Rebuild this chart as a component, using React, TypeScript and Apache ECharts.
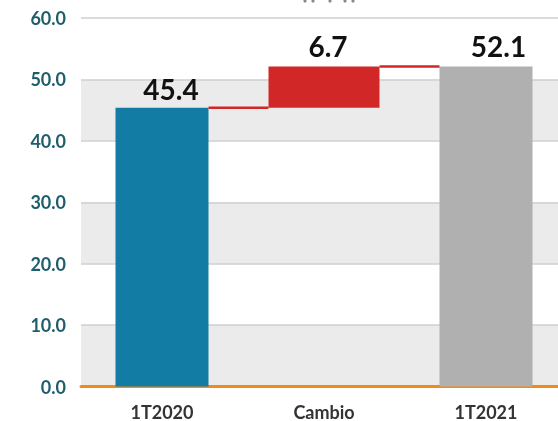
import React, { useEffect, useRef } from "react";
import * as echarts from "echarts";

const categories = ["1T2020", "Cambio", "1T2021"];
const startValue = 45.4;
const changeValue = 6.7;
const endValue = 52.1;
const yTicks = [0, 10, 20, 30, 40, 50, 60];

const BLUE = "#127ca5";
const RED = "#d22727";
const GRAY = "#b0b0b0";
const TOTAL_W = 93;
const CHANGE_W = 111;

export default function App() {
  const ref = useRef<HTMLDivElement>(null);
  useEffect(() => {
    if (!ref.current) return;
    const chart = echarts.init(ref.current, undefined, { renderer: "svg" });
    const labelBase = {
      show: true,
      position: "top",
      fontFamily: "Lato",
      fontWeight: "bold",
      fontSize: 28,
      color: "#111111",
    };
    const halfW = [TOTAL_W / 2, CHANGE_W / 2, TOTAL_W / 2];
    chart.setOption({
      animation: false,
      textStyle: { fontFamily: "Lato" },
      grid: [
        {
          left: 81,
          width: 486,
          top: 18,
          height: 368.5,
          containLabel: false,
          outerBoundsMode: "none",
        },
      ],
      xAxis: [
        {
          type: "category",
          data: categories,
          gridIndex: 0,
          axisLine: { show: true, lineStyle: { color: "#f28a14", width: 3 } },
          axisTick: { show: false },
          axisLabel: {
            fontFamily: "Lato",
            fontWeight: "bold",
            fontSize: 18,
            color: "#333333",
            margin: 16,
          },
          splitLine: { show: false },
          z: 1,
        },
        {
          type: "category",
          data: categories,
          gridIndex: 0,
          show: false,
        },
      ],
      yAxis: {
        type: "value",
        min: yTicks[0],
        max: yTicks[yTicks.length - 1],
        interval: 10,
        axisLine: { show: false },
        axisTick: { show: false },
        axisLabel: {
          formatter: (v: number) => v.toFixed(1),
          fontFamily: "Lato",
          fontWeight: "bold",
          fontSize: 18,
          color: "#1f5e6b",
          margin: 15,
        },
        splitLine: { show: true, lineStyle: { color: "#cfcfcf", width: 1.5 } },
        splitArea: { show: true, areaStyle: { color: ["#ebebeb", "#ffffff"] } },
      },
      graphic: [
        { type: "circle", shape: { cx: 305, cy: 1, r: 1.6 }, style: { fill: "#888" } },
        { type: "circle", shape: { cx: 313, cy: 1, r: 1.6 }, style: { fill: "#888" } },
        { type: "circle", shape: { cx: 330, cy: 1, r: 1.6 }, style: { fill: "#888" } },
        { type: "circle", shape: { cx: 345, cy: 1, r: 1.6 }, style: { fill: "#888" } },
        { type: "circle", shape: { cx: 353, cy: 1, r: 1.6 }, style: { fill: "#888" } },
      ],
      series: [
        {
          name: "Totales",
          type: "bar",
          xAxisIndex: 0,
          barWidth: TOTAL_W,
          data: [
            {
              value: startValue,
              itemStyle: { color: BLUE },
              label: { ...labelBase, offset: [9, 0], distance: 4.5 },
            },
            "-",
            {
              value: endValue,
              itemStyle: { color: GRAY },
              label: { ...labelBase, offset: [12.5, 0], distance: 6.5 },
            },
          ],
        },
        {
          name: "Base",
          type: "bar",
          xAxisIndex: 1,
          stack: "w",
          barWidth: CHANGE_W,
          itemStyle: { color: "transparent" },
          data: ["-", startValue, "-"],
        },
        {
          name: "Cambio",
          type: "bar",
          xAxisIndex: 1,
          stack: "w",
          barWidth: CHANGE_W,
          itemStyle: { color: RED },
          data: [
            "-",
            {
              value: changeValue,
              label: {
                ...labelBase,
                offset: [4, 0],
                distance: 6.5,
                formatter: () => changeValue.toFixed(1),
              },
            },
            "-",
          ],
        },
        {
          name: "Conectores",
          type: "custom",
          xAxisIndex: 0,
          z: 3,
          data: [
            [0, startValue, 1],
            [1, endValue, 2],
          ],
          encode: { x: 0, y: 1 },
          renderItem: (params: any, api: any) => {
            const from = api.value(0);
            const v = api.value(1);
            const to = api.value(2);
            const p1 = api.coord([from, v]);
            const p2 = api.coord([to, v]);
            return {
              type: "line",
              shape: {
                x1: p1[0] + halfW[from],
                y1: p1[1],
                x2: p2[0] - halfW[to],
                y2: p2[1],
              },
              style: { stroke: RED, lineWidth: 2.5 },
            };
          },
        },
      ],
    });
    return () => chart.dispose();
  }, []);
  return (
    <div
      ref={ref}
      style={{ position: "fixed", left: 0, top: 0, width: 558, height: 421, overflow: "hidden" }}
    />
  );
}
